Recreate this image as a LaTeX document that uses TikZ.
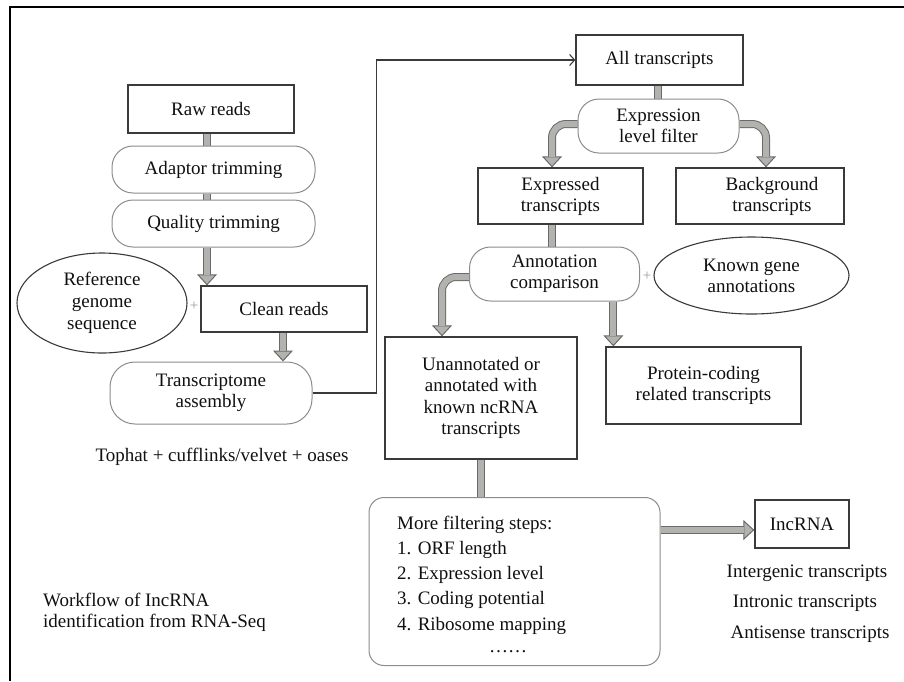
\documentclass[tikz,border=0pt]{standalone}
\usepackage{fontspec}
\setmainfont{Liberation Serif}
\usetikzlibrary{arrows.meta,shapes.geometric}
\definecolor{boxedge}{HTML}{3A3A3A}
\definecolor{roundedge}{HTML}{8C8C8C}
\definecolor{arrowfill}{HTML}{B2B2AE}
\definecolor{arrowedge}{HTML}{6A6A6A}
\definecolor{txt}{HTML}{101010}
\definecolor{plusgray}{HTML}{9A9A9A}
\pgfdeclarelayer{bg}
\pgfsetlayers{bg,main}
\begin{document}
\begin{tikzpicture}[x=1pt,y=-1pt,
  every node/.style={font=\fontsize{19}{21}\selectfont, text=txt, inner sep=0pt, align=center},
  sqbox/.style={draw=boxedge, line width=1.3pt, fill=white},
  rbox/.style={draw=roundedge, line width=1pt, fill=white, rounded corners=21pt},
  ell/.style={ellipse, draw=boxedge, line width=1.1pt, fill=white},
  fatline/.style={draw=arrowedge, line width=8pt, postaction={draw=arrowfill, line width=6pt}},
  fat/.style={draw=arrowedge, line width=8pt, -{Triangle[width=20pt,length=11pt,fill=arrowfill,line width=1pt]},
     postaction={draw=arrowfill, line width=6pt, -, shorten >=10.5pt}},
  thinarrow/.style={draw=boxedge, line width=1.1pt, -{Straight Barb[length=5pt,width=11pt,line width=1.1pt]}},
  plus/.style={text=plusgray, font=\fontsize{15}{15}\selectfont}
]
\useasboundingbox (0,0) rectangle (904,681);
\draw[line width=2pt, black] (10,681) -- (10,7) -- (904,7);

% left column
\node[sqbox, minimum width=166pt, minimum height=48pt] (raw) at (211,109) {Raw reads};
\node[rbox, minimum width=203pt, minimum height=47pt] (adapt) at (213.5,169.5) {Adaptor trimming};
\node[rbox, minimum width=203pt, minimum height=47pt] (qual) at (213.5,223.5) {Quality trimming};
\node[ell, minimum width=170pt, minimum height=100pt, font=\fontsize{19}{22}\selectfont] (ref) at (102,303) {Reference\\genome\\sequence};
\node[plus] (plus1) at (194,306) {+};
\node[sqbox, minimum width=166pt, minimum height=46pt] (clean) at (284,309) {Clean reads};
\node[rbox, minimum width=202pt, minimum height=62pt, rounded corners=25pt] (trans) at (211,393) {Transcriptome\\assembly};
\node (tools) at (222,457) {Tophat + cufflinks/velvet + oases};
\node[anchor=west, align=left] (caption) at (43,612) {Workflow of IncRNA\\identification from RNA-Seq};

% right part
\node[sqbox, minimum width=167pt, minimum height=50pt] (all) at (659.5,60) {All transcripts};
\node[rbox, minimum width=161pt, minimum height=54pt] (exf) at (658.5,126) {Expression\\level filter};
\node[sqbox, minimum width=165pt, minimum height=56pt] (exp) at (560.5,196) {Expressed\\transcripts};
\node[sqbox, minimum width=168pt, minimum height=56pt] (bg) at (760,196) {\hspace*{24pt}Background\\\hspace*{24pt}transcripts};
\node[rbox, minimum width=170pt, minimum height=54pt] (ann) at (554.5,274) {Annotation\\comparison};
\node[plus] (plus2) at (647,276) {+};
\node[ell, minimum width=195pt, minimum height=77pt] (known) at (751.5,275.5) {Known gene\\annotations};
\node[sqbox, minimum width=192pt, minimum height=122pt, font=\fontsize{19}{21.5}\selectfont] (unann) at (481,398) {Unannotated or\\annotated with\\known ncRNA\\transcripts};
\node[sqbox, minimum width=195pt, minimum height=77pt] (prot) at (703.5,385.5) {Protein-coding\\related transcripts};
\node[draw=roundedge, line width=1pt, fill=white, rounded corners=15pt, minimum width=291pt, minimum height=168pt] (more) at (514.5,581.5) {};
\node[anchor=west, align=left, font=\fontsize{19}{25.25}\selectfont] (moretxt) at (397,575) {More filtering steps:\\1. ORF length\\2. Expression level\\3. Coding potential\\4. Ribosome mapping};
\node (dots) at (508,652) {……};
\node[sqbox, minimum width=94pt, minimum height=48pt] (lnc) at (802,524) {IncRNA};
\node (inter) at (807,573) {Intergenic transcripts};
\node (intron) at (805,603) {Intronic transcripts};
\node (anti) at (810,634) {Antisense transcripts};

% connectors
\begin{pgfonlayer}{bg}
\draw[fatline] ([xshift=-4pt]raw.south) -- ([xshift=-4pt]raw.south |- adapt.north);
\draw[fatline] ([xshift=-6.5pt]adapt.south) -- ([xshift=-6.5pt]adapt.south |- qual.north);
\draw[fat] ([xshift=-6.5pt]qual.south) -- ([xshift=-6.5pt]qual.south |- clean.north);
\draw[fat] ([xshift=-1pt]clean.south) -- ([xshift=-1pt]clean.south |- trans.north);
\draw[thinarrow] (trans.east) -- ++(64,0) |- (all.west);
\draw[fatline] ([xshift=-1.5pt]all.south) -- ([xshift=-1.5pt]all.south |- exf.north);
\draw[fat, rounded corners=14pt] ([yshift=2pt]exf.west) -| ([xshift=-8.5pt]exp.north);
\draw[fat, rounded corners=14pt] ([yshift=2pt]exf.east) -| ([xshift=6pt]bg.north);
\draw[fatline] ([xshift=-8.5pt]exp.south) -- ([xshift=-8.5pt]exp.south |- ann.north);
\draw[fat, rounded corners=14pt] ([yshift=-3pt]ann.west) -| ([xshift=-39pt]unann.north);
\draw[fat] ([xshift=8pt]prot.north west |- ann.south) -- ([xshift=8pt]prot.north west);
\draw[fatline] (unann.south) -- (unann.south |- more.north);
\draw[fat] ([yshift=-6pt]lnc.west -| more.east) -- ([yshift=-6pt]lnc.west);
\end{pgfonlayer}
\end{tikzpicture}
\end{document}
